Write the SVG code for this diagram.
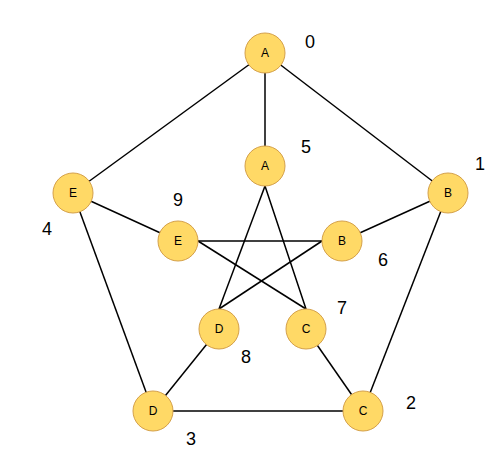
<svg xmlns="http://www.w3.org/2000/svg" width="501" height="473" viewBox="0 0 501 473">
<style>
.n circle{fill:#FFD966;stroke:#D4A04A;stroke-width:1}
.n text{font-family:"Liberation Sans",Arial,sans-serif;font-size:12px;fill:#000;text-anchor:middle;dominant-baseline:central}
.e line{stroke:#000;stroke-width:1.5}
.lbl{font-family:"Liberation Sans",Arial,sans-serif;font-size:18px;fill:#000;text-anchor:middle;dominant-baseline:central}
</style>
<rect width="501" height="473" fill="#fff"/>
<g id="edges" class="e">
<line x1="265" y1="53" x2="448" y2="193"/>
<line x1="265" y1="53" x2="73" y2="193"/>
<line x1="265" y1="53" x2="265" y2="166"/>
<line x1="448" y1="193" x2="363" y2="411"/>
<line x1="363" y1="411" x2="153" y2="411"/>
<line x1="153" y1="411" x2="73" y2="193"/>
<line x1="73" y1="193" x2="178" y2="241"/>
<line x1="448" y1="193" x2="342" y2="241"/>
<line x1="363" y1="411" x2="306" y2="329"/>
<line x1="153" y1="411" x2="219" y2="329"/>
<line x1="265" y1="186" x2="219" y2="309"/>
<line x1="265" y1="186" x2="306" y2="309"/>
<line x1="198" y1="241" x2="322" y2="241"/>
<line x1="198" y1="241" x2="306" y2="309"/>
<line x1="322" y1="241" x2="219" y2="309"/>
</g>
<g id="n0" class="n"><circle cx="265" cy="53" r="20"/><text x="265" y="53">A</text></g>
<g id="n1" class="n"><circle cx="448" cy="193" r="20"/><text x="448" y="193">B</text></g>
<g id="n2" class="n"><circle cx="363" cy="411" r="20"/><text x="363" y="411">C</text></g>
<g id="n3" class="n"><circle cx="153" cy="411" r="20"/><text x="153" y="411">D</text></g>
<g id="n4" class="n"><circle cx="73" cy="193" r="20"/><text x="73" y="193">E</text></g>
<g id="n5" class="n"><circle cx="265" cy="166" r="20"/><text x="265" y="166">A</text></g>
<g id="n6" class="n"><circle cx="342" cy="241" r="20"/><text x="342" y="241">B</text></g>
<g id="n7" class="n"><circle cx="306" cy="329" r="20"/><text x="306" y="329">C</text></g>
<g id="n8" class="n"><circle cx="219" cy="329" r="20"/><text x="219" y="329">D</text></g>
<g id="n9" class="n"><circle cx="178" cy="241" r="20"/><text x="178" y="241">E</text></g>
<g id="labels">
<text class="lbl" x="310" y="42">0</text>
<text class="lbl" x="480" y="164">1</text>
<text class="lbl" x="411" y="403">2</text>
<text class="lbl" x="191" y="439">3</text>
<text class="lbl" x="47" y="229">4</text>
<text class="lbl" x="306" y="147">5</text>
<text class="lbl" x="383" y="260">6</text>
<text class="lbl" x="342" y="308">7</text>
<text class="lbl" x="246" y="357">8</text>
<text class="lbl" x="178" y="200">9</text>
</g>
</svg>
